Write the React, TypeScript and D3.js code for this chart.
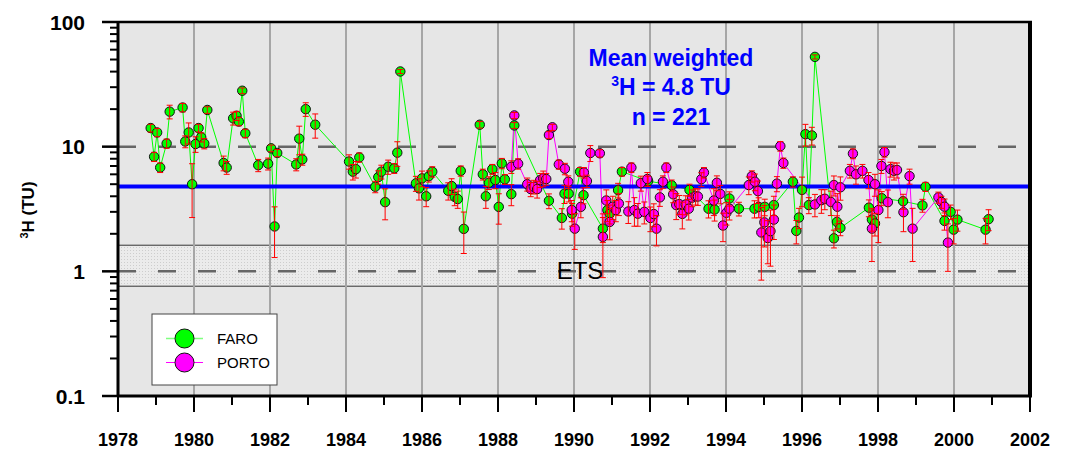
import React from "react";
import * as d3 from "d3";

// Tritium in precipitation: [decimal year, ³H (TU), 1σ (TU)]
const faro: [number, number, number][] = [
  [1978.86, 14.1, 1.0], [1978.95, 8.3, 0.7], [1979.03, 13.0, 1.0], [1979.11, 6.8, 0.6],
  [1979.28, 10.6, 0.9], [1979.36, 19.1, 2.4], [1979.70, 20.6, 1.6], [1979.77, 11.0, 1.2],
  [1979.86, 13.0, 2.5], [1979.95, 5.0, 2.3], [1980.04, 10.5, 1.5], [1980.12, 14.1, 1.0],
  [1980.19, 11.9, 1.0], [1980.27, 10.6, 1.0], [1980.35, 19.7, 1.2], [1980.78, 7.4, 1.0],
  [1980.86, 6.8, 0.8], [1981.03, 16.9, 2.0], [1981.12, 17.7, 1.5], [1981.18, 15.9, 1.2],
  [1981.27, 28.1, 1.5], [1981.35, 12.8, 1.0], [1981.69, 7.1, 0.8], [1981.95, 7.3, 0.8],
  [1982.03, 9.7, 0.6], [1982.12, 2.29, 1.0], [1982.19, 8.9, 0.6], [1982.69, 7.2, 0.8],
  [1982.77, 11.6, 3.0], [1982.85, 7.9, 0.8], [1982.94, 20.0, 2.5], [1983.19, 15.0, 3.3],
  [1984.08, 7.6, 1.0], [1984.18, 6.3, 0.9], [1984.26, 6.6, 1.0], [1984.35, 8.2, 0.7],
  [1984.77, 4.77, 0.5], [1984.85, 5.7, 0.7], [1984.93, 6.3, 0.8], [1985.03, 3.59, 1.0],
  [1985.11, 6.9, 0.9], [1985.27, 6.7, 0.6], [1985.35, 8.95, 2.0], [1985.43, 40.1, 1.5],
  [1985.84, 5.08, 0.7], [1985.92, 4.63, 0.9], [1986.00, 5.57, 0.8], [1986.11, 4.0, 0.7],
  [1986.18, 5.8, 0.6], [1986.27, 6.3, 0.6], [1986.69, 4.43, 0.7], [1986.78, 4.83, 0.7],
  [1986.86, 3.96, 0.6], [1986.94, 3.8, 0.6], [1987.02, 6.4, 0.6], [1987.10, 2.19, 0.8],
  [1987.52, 15.0, 0.9], [1987.60, 6.0, 0.6], [1987.68, 4.0, 0.8], [1987.76, 5.13, 0.6],
  [1987.85, 6.6, 0.6], [1987.93, 5.4, 0.8], [1988.02, 3.29, 0.9], [1988.10, 7.35, 0.7],
  [1988.18, 5.47, 0.5], [1988.35, 4.16, 0.8], [1988.43, 14.8, 0.8], [1989.34, 3.68, 0.5],
  [1989.68, 2.68, 0.5], [1989.75, 4.2, 0.7], [1989.86, 4.2, 0.6], [1989.95, 2.9, 0.6],
  [1990.16, 6.3, 0.5], [1990.25, 4.08, 0.6], [1990.76, 2.2, 0.5], [1990.88, 3.1, 0.6],
  [1990.94, 2.9, 0.5], [1991.16, 4.48, 0.6], [1991.26, 6.3, 0.5], [1991.95, 5.3, 0.5],
  [1992.57, 4.9, 0.5], [1993.04, 4.5, 0.5], [1993.54, 3.18, 0.5], [1993.70, 3.13, 0.6],
  [1994.09, 3.84, 0.5], [1994.34, 3.18, 0.4], [1994.75, 3.18, 0.5], [1994.86, 3.29, 0.6],
  [1995.02, 3.29, 0.5], [1995.26, 3.4, 0.6], [1995.76, 5.23, 0.5], [1995.85, 2.11, 0.45],
  [1995.92, 2.7, 0.5], [1996.00, 4.5, 1.2], [1996.09, 12.6, 2.5], [1996.18, 3.4, 0.5],
  [1996.26, 12.3, 2.0], [1996.34, 52.5, 2.0], [1996.84, 1.84, 0.3], [1996.92, 2.49, 0.3],
  [1997.01, 2.23, 0.3], [1997.76, 3.24, 0.5], [1997.84, 2.6, 0.5], [1997.92, 2.42, 0.5],
  [1998.10, 3.86, 0.5], [1998.66, 3.65, 0.5], [1999.17, 3.38, 0.4], [1999.25, 4.77, 0.4],
  [1999.75, 2.54, 0.4], [1999.91, 3.0, 0.4], [1999.99, 2.16, 0.5], [2000.09, 2.6, 0.5],
  [2000.83, 2.16, 0.5], [2000.91, 2.62, 0.5],
];

const porto: [number, number, number][] = [
  [1988.35, 6.9, 0.8], [1988.43, 17.8, 1.0], [1988.53, 7.3, 0.7], [1988.77, 5.0, 0.6],
  [1988.86, 4.57, 0.6], [1988.94, 4.77, 0.6], [1989.03, 4.57, 0.7], [1989.11, 5.4, 0.7],
  [1989.19, 5.57, 0.8], [1989.27, 5.5, 0.6], [1989.34, 12.4, 0.8], [1989.43, 14.3, 0.8],
  [1989.60, 7.2, 0.6], [1989.76, 6.65, 0.7], [1989.85, 5.23, 0.6], [1989.94, 3.1, 0.6],
  [1990.02, 2.2, 0.7], [1990.18, 3.29, 0.6], [1990.26, 6.2, 0.6], [1990.34, 5.3, 0.6],
  [1990.43, 8.9, 1.3], [1990.68, 8.85, 0.6], [1990.76, 1.89, 1.0], [1990.85, 3.7, 0.8],
  [1990.94, 2.49, 0.7], [1991.02, 3.3, 0.7], [1991.10, 3.1, 0.6], [1991.18, 3.5, 0.7],
  [1991.43, 3.02, 0.6], [1991.51, 6.8, 0.6], [1991.59, 3.1, 0.8], [1991.68, 2.9, 0.6],
  [1991.76, 5.1, 0.7], [1991.85, 3.0, 0.6], [1991.93, 5.5, 0.7], [1992.01, 2.68, 0.6],
  [1992.10, 2.88, 0.6], [1992.17, 2.2, 0.6], [1992.26, 3.92, 0.6], [1992.34, 5.23, 0.6],
  [1992.43, 6.8, 0.6], [1992.61, 4.15, 0.6], [1992.69, 3.4, 0.8], [1992.77, 3.46, 0.6],
  [1992.85, 2.89, 0.7], [1992.94, 3.44, 0.6], [1993.02, 3.18, 0.6], [1993.11, 3.9, 0.6],
  [1993.20, 4.0, 0.6], [1993.26, 3.98, 0.6], [1993.35, 5.48, 0.7], [1993.42, 6.2, 0.6],
  [1993.68, 3.7, 0.9], [1993.76, 5.13, 0.7], [1993.85, 4.18, 0.7], [1993.92, 2.33, 0.6],
  [1994.01, 2.95, 0.6], [1994.09, 3.18, 0.6], [1994.60, 4.92, 0.8], [1994.68, 5.8, 0.6],
  [1994.76, 5.23, 0.8], [1994.84, 4.4, 0.9], [1994.93, 2.05, 1.2], [1995.01, 2.47, 0.9],
  [1995.10, 1.85, 0.7], [1995.17, 2.1, 1.0], [1995.26, 2.6, 0.8], [1995.34, 5.05, 0.7],
  [1995.43, 10.1, 0.9], [1995.51, 7.4, 0.7], [1996.34, 3.44, 0.7], [1996.51, 3.72, 0.8],
  [1996.60, 3.82, 0.7], [1996.76, 3.6, 0.8], [1996.84, 4.92, 0.9], [1996.93, 3.3, 0.9],
  [1997.01, 4.72, 1.0], [1997.26, 6.4, 0.8], [1997.34, 8.8, 0.8], [1997.42, 6.0, 1.0],
  [1997.59, 6.4, 0.8], [1997.75, 5.4, 0.8], [1997.84, 2.2, 1.0], [1997.92, 5.0, 1.0],
  [1998.01, 3.1, 1.4], [1998.09, 7.0, 0.9], [1998.17, 9.05, 0.8], [1998.26, 3.59, 0.9],
  [1998.33, 6.6, 0.9], [1998.42, 6.4, 1.0], [1998.50, 6.5, 0.9], [1998.67, 2.98, 0.9],
  [1998.83, 5.8, 0.8], [1998.91, 2.2, 1.0], [1999.59, 3.92, 0.4], [1999.67, 3.6, 0.4],
  [1999.75, 3.3, 0.5], [1999.84, 1.7, 0.7],
];

const xTickYears = [1978, 1980, 1982, 1984, 1986, 1988, 1990, 1992, 1994, 1996, 1998, 2000, 2002];
const xTickLabels = ["1978", "1980", "1982", "1984", "1986", "1988", "1990", "1992", "1994", "1996", "1998", "2000", "2002"];
const yTickValues = [0.1, 1, 10, 100];
const yTickLabels = ["0.1", "1", "10", "100"];
const referenceLevels = [1, 10];
const etsBand = [0.76, 1.62];
const meanWeighted = 4.8;
const sampleCount = 221;

const W = 1067;
const H = 450;
const left = 118;
const right = 1030;
const top = 22;
const bottom = 396;
const FONT = "'Liberation Sans', Arial, Helvetica, sans-serif";

const GREEN = "#00ff00";
const MAGENTA = "#ff00ff";
const RED = "#ff0000";
const BLUE = "#0000ff";

export default function App() {
  const x = d3.scaleLinear().domain([1978, 2002]).range([left, right]);
  const y = d3.scaleLog().domain([0.1, 100]).range([bottom, top]);

  const line = d3
    .line<[number, number, number]>()
    .x((d) => x(d[0]))
    .y((d) => y(d[1]));

  const minorYears = d3.range(1979, 2002, 2);
  const gridYears = xTickYears.filter((v) => v > 1978 && v < 2002);
  const minorY: number[] = [];
  [0.1, 1, 10].forEach((dec) => {
    for (let k = 2; k <= 9; k++) minorY.push(dec * k);
  });

  const errBars = (data: [number, number, number][], key: string) =>
    data.map((d, i) => {
      const cx = x(d[0]);
      const lo = Math.max(d[1] - d[2], 0.11);
      const hi = d[1] + d[2];
      return (
        <g key={key + i} stroke={RED} strokeWidth={1}>
          <line x1={cx} x2={cx} y1={y(lo)} y2={y(hi)} />
          <line x1={cx - 3} x2={cx + 3} y1={y(lo)} y2={y(lo)} />
          <line x1={cx - 3} x2={cx + 3} y1={y(hi)} y2={y(hi)} />
        </g>
      );
    });

  const dots = (data: [number, number, number][], fill: string, key: string) =>
    data.map((d, i) => (
      <circle key={key + i} cx={x(d[0])} cy={y(d[1])} r={4.7} fill={fill} stroke="#111" strokeWidth={1} />
    ));

  return (
    <svg
      width={W}
      height={H}
      viewBox={`0 0 ${W} ${H}`}
      style={{ position: "absolute", left: 0, top: 0, background: "#fff" }}
      fontFamily={FONT}
    >
      <defs>
        <pattern id="stipple" width="3" height="3" patternUnits="userSpaceOnUse">
          <rect width="3" height="3" fill="#ebebeb" />
          <rect x="1" y="1" width="1" height="1" fill="#cdcdcd" />
        </pattern>
      </defs>

      {/* plot background */}
      <rect x={left} y={top} width={right - left} height={bottom - top} fill="#e6e6e6" />

      {/* analytical detection band */}
      <rect
        x={left}
        y={y(etsBand[1])}
        width={right - left}
        height={y(etsBand[0]) - y(etsBand[1])}
        fill="url(#stipple)"
      />
      {etsBand.map((v) => (
        <line key={"ets" + v} x1={left} x2={right} y1={y(v)} y2={y(v)} stroke="#333" strokeWidth={1} />
      ))}

      {/* vertical grid */}
      {gridYears.map((v) => (
        <line key={"g" + v} x1={x(v)} x2={x(v)} y1={top} y2={bottom} stroke="#a6a6a6" strokeWidth={2} />
      ))}

      {/* dashed reference levels */}
      {referenceLevels.map((v) => (
        <line
          key={"ref" + v}
          x1={left}
          x2={right}
          y1={y(v)}
          y2={y(v)}
          stroke="#666"
          strokeWidth={2.5}
          strokeDasharray="18 22"
        />
      ))}

      <text x={580} y={y(1) + 8} textAnchor="middle" fontSize={24} fill="#000">
        ETS
      </text>

      {/* series lines */}
      <path d={line(faro) ?? ""} fill="none" stroke={GREEN} strokeWidth={1} />
      <path d={line(porto) ?? ""} fill="none" stroke={MAGENTA} strokeWidth={1} />

      {/* weighted mean */}
      <line x1={left} x2={right} y1={y(meanWeighted)} y2={y(meanWeighted)} stroke={BLUE} strokeWidth={4} />

      {dots(faro, GREEN, "f")}
      {dots(porto, MAGENTA, "p")}
      {errBars(faro, "ef")}
      {errBars(porto, "ep")}

      {/* frame */}
      <line x1={left} x2={right + 2} y1={top} y2={top} stroke="#000" strokeWidth={2.5} />
      <line x1={right} x2={right} y1={top} y2={bottom} stroke="#000" strokeWidth={4} />
      <line x1={left - 1} x2={right + 2} y1={bottom} y2={bottom} stroke="#000" strokeWidth={3} />
      <line x1={left} x2={left} y1={top - 1} y2={bottom + 1} stroke="#000" strokeWidth={3} />

      {/* x ticks */}
      {xTickYears.map((v, i) => (
        <g key={"xt" + v}>
          <line x1={x(v)} x2={x(v)} y1={bottom} y2={bottom + 16} stroke="#000" strokeWidth={2} />
          <text x={x(v)} y={446} textAnchor="middle" fontSize={18} fontWeight="bold">
            {xTickLabels[i]}
          </text>
        </g>
      ))}
      {minorYears.map((v) => (
        <line key={"xm" + v} x1={x(v)} x2={x(v)} y1={bottom} y2={bottom + 9} stroke="#000" strokeWidth={2} />
      ))}

      {/* y ticks */}
      {yTickValues.map((v, i) => (
        <g key={"yt" + v}>
          <line x1={left - 16} x2={left} y1={y(v)} y2={y(v)} stroke="#000" strokeWidth={2.5} />
          <text x={85} y={y(v)} dy="0.36em" textAnchor="end" fontSize={21} fontWeight="bold">
            {yTickLabels[i]}
          </text>
        </g>
      ))}
      {minorY.map((v) => (
        <line key={"ym" + v} x1={left - 8} x2={left} y1={y(v)} y2={y(v)} stroke="#000" strokeWidth={2} />
      ))}

      <text transform="translate(34,210) rotate(-90)" textAnchor="middle" fontSize={17} fontWeight="bold">
        <tspan fontSize={11} dy={-6}>3</tspan>
        <tspan dy={6}>H (TU)</tspan>
      </text>

      {/* summary */}
      <g fill={BLUE} fontWeight="bold" fontSize={23} textAnchor="middle">
        <text x={671} y={66}>Mean weighted</text>
        <text x={671} y={95}>
          <tspan fontSize={14} dy={-9}>3</tspan>
          <tspan dy={9}>{`H = ${meanWeighted} TU`}</tspan>
        </text>
        <text x={671} y={125}>{`n = ${sampleCount}`}</text>
      </g>

      {/* legend */}
      <g>
        <rect x={152} y={314} width={125} height={71} fill="#fff" stroke="#444" strokeWidth={1} />
        <line x1={166} x2={203} y1={338.5} y2={338.5} stroke="#80ff80" strokeWidth={1.5} />
        <circle cx={184.5} cy={338.5} r={9.5} fill={GREEN} stroke="#111" strokeWidth={1} />
        <text x={217} y={344} fontSize={15}>FARO</text>
        <line x1={166} x2={203} y1={362.5} y2={362.5} stroke={MAGENTA} strokeWidth={1} />
        <circle cx={184.5} cy={362.5} r={9.5} fill={MAGENTA} stroke="#111" strokeWidth={1} />
        <text x={217} y={367.5} fontSize={15}>PORTO</text>
      </g>
    </svg>
  );
}
